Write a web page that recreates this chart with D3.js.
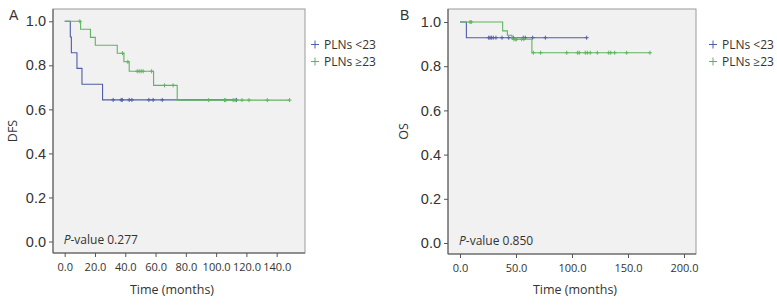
<!DOCTYPE html>
<html>
<head>
<meta charset="utf-8">
<script src="https://cdn.jsdelivr.net/npm/d3@7"></script>
<style>
  body { margin: 0; background: #fff; }
  svg text { font-family: "Open Sans", sans-serif; fill: #333; }
</style>
</head>
<body>
<div id="chart"></div>
<script>
// Panel A - DFS (steps: [time, survival])
const dfsLowSteps = [[0, 1.0], [3.7, 0.929], [4.4, 0.857], [8.1, 0.786], [11.4, 0.714], [25, 0.643]]
const dfsLowCensor = [32, 37.3, 38, 42.6, 44.4, 55.6, 58.4, 64.4, 113.4]
const dfsLowEnd = 113.4
const dfsHighSteps = [[0, 1.0], [10.5, 0.964], [17, 0.927], [20.2, 0.891], [34.7, 0.855], [39.1, 0.816], [42.6, 0.773], [58.7, 0.709], [74.3, 0.642]]
const dfsHighCensor = [10, 38.2, 41.7, 47.9, 49.2, 50.5, 51.8, 57.4, 65.9, 71.6, 95.1, 105.5, 106.4, 111.2, 112.5, 117.1, 121.7, 133.8, 148.5]
const dfsHighEnd = 148.5
const dfsTicks = [0, 20, 40, 60, 80, 100, 120, 140]

// Panel B - OS
const osLowSteps = [[0, 1.0], [5.7, 0.929]]
const osLowCensor = [25.6, 26.8, 28, 29.7, 32.1, 37.5, 43.5, 47.6, 56.5, 58.3, 64.9, 76.2, 113.1]
const osLowEnd = 113.1
const osHighSteps = [[0, 1.0], [38.1, 0.96], [42.3, 0.94], [46.4, 0.922], [64.2, 0.861]]
const osHighCensor = [9, 10, 48.2, 49.4, 50.6, 55, 57.1, 65.5, 72, 95.3, 105, 106.5, 111.9, 113.7, 116.3, 122.6, 132.8, 134.6, 138.1, 148.8, 169.6]
const osHighEnd = 169.6
const osTicks = [0, 50, 100, 150, 200]

const yTicks = [0, 0.2, 0.4, 0.6, 0.8, 1.0]
const groups = ["PLNs <23", "PLNs \u226523"]
const colors = ["#4f5ea8", "#5db65d"]

const svg = d3.select("#chart").append("svg")
  .attr("width", 777).attr("height", 305)

function drawPanel(o) {
  const g = svg.append("g")
  const x = d3.scaleLinear().domain(o.xDomain).range(o.xRange)
  const y = d3.scaleLinear().domain([0, 1]).range(o.yRange)

  // plot background
  g.append("rect")
    .attr("x", o.frame[0]).attr("y", o.frame[1])
    .attr("width", o.frame[2] - o.frame[0]).attr("height", o.frame[3] - o.frame[1])
    .attr("fill", "#f1f1f1").attr("stroke", "#9a9a9a").attr("stroke-width", 1)

  // axes
  const ya = g.append("g").attr("transform", `translate(${o.frame[0]},0)`)
    .call(d3.axisLeft(y).tickValues(yTicks).tickFormat(d3.format(".1f")).tickSize(4).tickPadding(3))
  ya.select(".domain").attr("stroke", "#555").attr("d", `M0,${o.frame[1]}V${o.frame[3]}`)
  ya.selectAll(".tick line").attr("stroke", "#555")
  ya.selectAll(".tick text").style("font-family", "'Liberation Sans', Arial, sans-serif")
    .style("font-size", "14.5px").attr("fill", "#333")

  const xa = g.append("g").attr("transform", `translate(0,${o.frame[3]})`)
    .call(d3.axisBottom(x).tickValues(o.ticks).tickFormat(d3.format(".1f")).tickSize(4).tickPadding(6))
  xa.select(".domain").attr("stroke", "#555").attr("d", `M${o.frame[0]},0H${o.frame[2]}`)
  xa.selectAll(".tick line").attr("stroke", "#555")
  xa.selectAll(".tick text").style("font-size", "11px").attr("fill", "#333")

  // curves
  o.series.forEach((s, i) => {
    const pts = s.steps.slice()
    pts.push([s.end, s.steps[s.steps.length - 1][1]])
    const line = d3.line().curve(d3.curveStepAfter).x(d => x(d[0])).y(d => y(d[1]))
    g.append("path").datum(pts).attr("d", line)
      .attr("fill", "none").attr("stroke", colors[i]).attr("stroke-width", 1.1)
    const surv = t => {
      let v = 1
      s.steps.forEach(p => { if (p[0] <= t) v = p[1] })
      return v
    }
    g.selectAll(null).data(s.censor).join("path")
      .attr("d", t => `M${x(t) - 2},${y(surv(t))}h4M${x(t)},${y(surv(t)) - 2}v4`)
      .attr("stroke", colors[i]).attr("stroke-width", 1)
  })

  // legend
  groups.forEach((name, i) => {
    const ly = 44.5 + i * 17
    g.append("path")
      .attr("d", `M${o.legendX - 4},${ly}h8M${o.legendX},${ly - 4}v8`)
      .attr("stroke", colors[i]).attr("stroke-width", 1)
    g.append("text").attr("x", o.legendX + 9).attr("y", ly + 4.5)
      .style("font-size", "12px").text(name)
  })

  // texts
  const pv = g.append("text").attr("x", x(0) - 1).attr("y", o.frame[3] - 9)
    .style("font-size", "12px")
  pv.append("tspan").style("font-style", "italic").text("P")
  pv.append("tspan").text(o.pValue)

  g.append("text").attr("x", o.titleX).attr("y", 294)
    .attr("text-anchor", "middle").style("font-size", "12.5px").text("Time (months)")

  g.append("text").attr("transform", `translate(${o.yLabelX},${(o.frame[1] + o.frame[3]) / 2}) rotate(-90)`)
    .attr("text-anchor", "middle").style("font-size", "12.5px").text(o.yLabel)

  g.append("text").attr("x", o.letterX).attr("y", 20)
    .style("font-family", "'Liberation Sans', Arial, sans-serif").style("font-size", "14px")
    .attr("fill", "#222").text(o.letter)
}

drawPanel({
  letter: "A", letterX: 9, yLabel: "DFS", yLabelX: 17, titleX: 172,
  frame: [53, 9, 305, 253],
  xDomain: [0, 140], xRange: [64.7, 276.7], yRange: [241.5, 21.3], ticks: dfsTicks,
  legendX: 315, pValue: "-value 0.277",
  series: [
    { steps: dfsLowSteps, censor: dfsLowCensor, end: dfsLowEnd },
    { steps: dfsHighSteps, censor: dfsHighCensor, end: dfsHighEnd }
  ]
})

drawPanel({
  letter: "B", letterX: 400, yLabel: "OS", yLabelX: 408, titleX: 575,
  frame: [448, 9, 696, 254],
  xDomain: [0, 200], xRange: [460, 684], yRange: [243, 22], ticks: osTicks,
  legendX: 713, pValue: "-value 0.850",
  series: [
    { steps: osLowSteps, censor: osLowCensor, end: osLowEnd },
    { steps: osHighSteps, censor: osHighCensor, end: osHighEnd }
  ]
})
</script>
</body>
</html>
